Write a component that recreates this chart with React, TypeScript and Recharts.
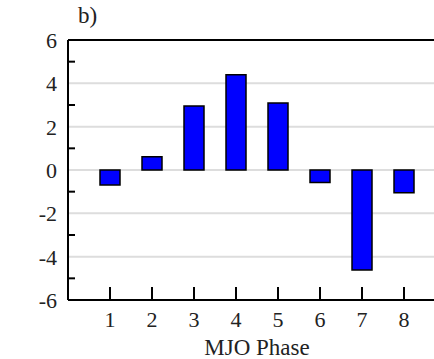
import React from 'react'
import { BarChart, Bar, XAxis, YAxis, CartesianGrid, ReferenceLine, Label } from 'recharts'

// MJO phase composite anomalies
const PHASES = [1, 2, 3, 4, 5, 6, 7, 8]
const VALUES = [-0.69, 0.61, 2.95, 4.4, 3.09, -0.58, -4.62, -1.05]
const Y_TICKS = [-6, -5, -4, -3, -2, -1, 0, 1, 2, 3, 4, 5, 6]
const GRID_VALUES = [-4, -2, 0, 2, 4]

const FONT = 'Liberation Serif'

const data = PHASES.map((phase, i) => ({ phase, value: VALUES[i] }))

// left axis: labels on even values, short inward ticks on odd ones
function YTick(props: any) {
  const { x, y, payload } = props
  const v = payload.value
  if (v % 2 !== 0) {
    return <line x1={x} x2={x + 7} y1={y} y2={y} stroke="#000" strokeWidth={2} />
  }
  return (
    <text x={x - 11} y={y} dy="0.36em" textAnchor="end" style={{ fontSize: 22, fontFamily: FONT, fill: '#222' }}>
      {v}
    </text>
  )
}

// bottom axis: inward tick plus label underneath
function XTick(props: any) {
  const { x, y, payload } = props
  return (
    <g>
      <line x1={x} x2={x} y1={y} y2={y - 13} stroke="#000" strokeWidth={2} />
      <text x={x} y={y + 27} textAnchor="middle" style={{ fontSize: 22, fontFamily: FONT, fill: '#222' }}>
        {payload.value}
      </text>
    </g>
  )
}

export default function App() {
  return (
    <div style={{ position: 'absolute', left: 0, top: 0, width: 434, height: 359, background: '#fff', fontFamily: FONT }}>
      <div style={{ position: 'absolute', left: 78, top: 2, fontSize: 23, color: '#222', lineHeight: '28px', fontFamily: FONT }}>b)</div>
      <BarChart width={434} height={359} data={data} margin={{ top: 40, right: 0, bottom: 0, left: 0 }} style={{ fontFamily: FONT }}>
        <CartesianGrid vertical={false} horizontalValues={GRID_VALUES} stroke="#dddddd" strokeWidth={2} />
        <XAxis
          dataKey="phase"
          type="number"
          domain={[0, 8.714]}
          ticks={PHASES}
          interval={0}
          height={59}
          tickSize={0}
          tickMargin={0}
          tickLine={false}
          axisLine={{ stroke: '#000', strokeWidth: 2 }}
          tick={<XTick />}
        >
          <Label value="MJO Phase" position="insideBottom" offset={4} dx={6} style={{ fontSize: 23, fontFamily: FONT, fill: '#222' }} />
        </XAxis>
        <YAxis
          type="number"
          domain={[-6, 6]}
          ticks={Y_TICKS}
          interval={0}
          width={68}
          tickSize={0}
          tickMargin={0}
          tickLine={false}
          axisLine={{ stroke: '#000', strokeWidth: 2 }}
          tick={<YTick />}
        />
        <ReferenceLine y={6} stroke="#000" strokeWidth={2} />
        <Bar dataKey="value" fill="#0000ff" stroke="#000" strokeWidth={1.5} barSize={20} isAnimationActive={false} />
      </BarChart>
    </div>
  )
}
